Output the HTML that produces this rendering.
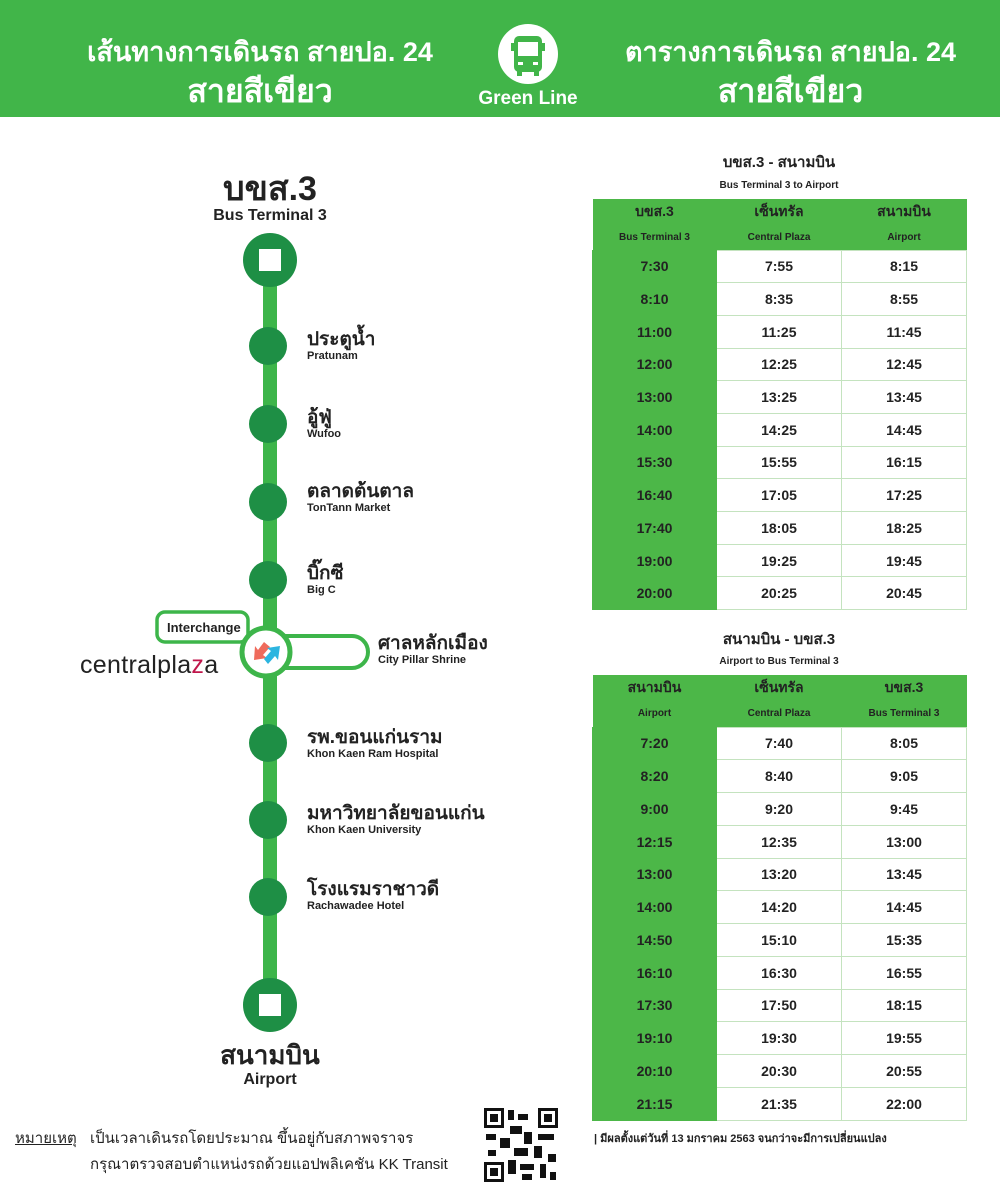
<!DOCTYPE html>
<html><head><meta charset="utf-8"><style>
body{margin:0;width:1000px;height:1186px;position:relative;background:#fff;font-family:"Liberation Sans","Noto Sans CJK SC",sans-serif;overflow:hidden;color:#222}
.a{position:absolute}
.hdr{left:0;top:0;width:1000px;height:117px;background:#41b549}
.ht{color:#fff;font-weight:bold;text-align:center;white-space:nowrap}
table{position:absolute;border-collapse:collapse;table-layout:fixed;font-weight:bold;font-size:14px;text-align:center}
td{border:1px solid #c4e3bf;padding:0}
td.g{background:#4cb748;border-color:#4cb748}
th{background:#4cb748;font-weight:bold;color:#222;padding:0}
.s1{font-size:14px}.s2{font-size:10px}
.lbl{font-weight:bold;white-space:nowrap}
.th{font-size:19px;color:#222;line-height:20px}
.en{font-size:11px;color:#222;line-height:13px}
</style></head><body>
<div class="a hdr"></div>
<div class="a ht" style="left:70px;top:30px;width:380px;font-size:27px">เส้นทางการเดินรถ สายปอ. 24</div>
<div class="a ht" style="left:70px;top:66px;width:380px;font-size:32px">สายสีเขียว</div>
<div class="a ht" style="left:608px;top:30px;width:365px;font-size:27px">ตารางการเดินรถ สายปอ. 24</div>
<div class="a ht" style="left:608px;top:66px;width:365px;font-size:32px">สายสีเขียว</div>
<svg class="a" style="left:497px;top:23px" width="62" height="62"><circle cx="31" cy="31" r="30" fill="#fff"/><rect x="17" y="13" width="28" height="36" rx="5" fill="#41b549"/><rect x="21" y="19" width="20" height="14" fill="#fff"/><rect x="21" y="39" width="5" height="3" fill="#fff"/><rect x="36" y="39" width="5" height="3" fill="#fff"/><rect x="20" y="48" width="5" height="5" fill="#41b549"/><rect x="37" y="48" width="5" height="5" fill="#41b549"/><rect x="14" y="20" width="3" height="8" fill="#41b549"/><rect x="45" y="20" width="3" height="8" fill="#41b549"/></svg>
<div class="a ht" style="left:460px;top:88px;width:136px;font-size:19px">Green Line</div>

<div class="a lbl" style="left:170px;top:170px;width:200px;text-align:center;font-size:34px;line-height:38px">บขส.3</div>
<div class="a lbl" style="left:170px;top:207px;width:200px;text-align:center;font-size:16px">Bus Terminal 3</div>

<svg class="a" style="left:0;top:0" width="600" height="1186">
<rect x="263" y="260" width="14" height="745" fill="#3db54a"/>
<circle cx="270" cy="260" r="27" fill="#1e8f45"/><rect x="259" y="249" width="22" height="22" fill="#fff"/>
<circle cx="270" cy="1005" r="27" fill="#1e8f45"/><rect x="259" y="994" width="22" height="22" fill="#fff"/>
<g fill="#1e8f45"><circle cx="268" cy="346" r="19"/><circle cx="268" cy="424" r="19"/><circle cx="268" cy="502" r="19"/><circle cx="268" cy="580" r="19"/><circle cx="268" cy="743" r="19"/><circle cx="268" cy="820" r="19"/><circle cx="268" cy="897" r="19"/></g>
<rect x="157" y="612" width="91" height="30" rx="8" fill="#fff" stroke="#3db54a" stroke-width="3.5"/>
<path d="M285 636 H352 A16 16 0 0 1 352 668 H285" fill="#fff" stroke="#3db54a" stroke-width="4"/>
<circle cx="266" cy="652" r="24" fill="#fff" stroke="#3db54a" stroke-width="5"/>
<path d="M264 642 L258 650 L255 646 L254 660 L267 658 L263 655 L270 647 Z" fill="#ef6b5c"/>
<path d="M268 664 L275 656 L278 660 L280 646 L267 648 L271 651 L264 659 Z" fill="#2cb5e0"/>
</svg>
<div class="a lbl" style="left:167px;top:620px;font-size:13px">Interchange</div>
<div class="a" style="left:80px;top:651px;font-size:25px;letter-spacing:0.3px;color:#222">central<span style="font-weight:normal">pla</span><span style="color:#c0164b">z</span>a</div>

<div class="a lbl" style="left:307px;top:330px"><div class="th">ประตูน้ำ</div><div class="en">Pratunam</div></div>
<div class="a lbl" style="left:307px;top:408px"><div class="th">อู้ฟู่</div><div class="en">Wufoo</div></div>
<div class="a lbl" style="left:307px;top:482px"><div class="th">ตลาดต้นตาล</div><div class="en">TonTann Market</div></div>
<div class="a lbl" style="left:307px;top:564px"><div class="th">บิ๊กซี</div><div class="en">Big C</div></div>
<div class="a lbl" style="left:378px;top:634px"><div class="th">ศาลหลักเมือง</div><div class="en">City Pillar Shrine</div></div>
<div class="a lbl" style="left:307px;top:728px"><div class="th">รพ.ขอนแก่นราม</div><div class="en">Khon Kaen Ram Hospital</div></div>
<div class="a lbl" style="left:307px;top:804px"><div class="th">มหาวิทยาลัยขอนแก่น</div><div class="en">Khon Kaen University</div></div>
<div class="a lbl" style="left:307px;top:880px"><div class="th">โรงแรมราชาวดี</div><div class="en">Rachawadee Hotel</div></div>

<div class="a lbl" style="left:170px;top:1040px;width:200px;text-align:center;font-size:26px;line-height:30px">สนามบิน</div>
<div class="a lbl" style="left:170px;top:1071px;width:200px;text-align:center;font-size:16px">Airport</div>

<div class="a" style="left:15px;top:1126px;font-size:15px;text-decoration:underline">หมายเหตุ</div>
<div class="a" style="left:90px;top:1126px;font-size:15px;white-space:nowrap">เป็นเวลาเดินรถโดยประมาณ ขึ้นอยู่กับสภาพจราจร</div>
<div class="a" style="left:90px;top:1152px;font-size:15px;white-space:nowrap">กรุณาตรวจสอบตำแหน่งรถด้วยแอปพลิเคชัน KK Transit</div>
<svg class="a" style="left:484px;top:1108px" width="74" height="74"><rect width="74" height="74" fill="#fff"/><g fill="#111"><rect x="0" y="0" width="20" height="20"/><rect x="54" y="0" width="20" height="20"/><rect x="0" y="54" width="20" height="20"/></g><g fill="#fff"><rect x="3" y="3" width="14" height="14"/><rect x="57" y="3" width="14" height="14"/><rect x="3" y="57" width="14" height="14"/></g><g fill="#111"><rect x="6" y="6" width="8" height="8"/><rect x="60" y="6" width="8" height="8"/><rect x="6" y="60" width="8" height="8"/><rect x="24" y="2" width="6" height="10"/><rect x="34" y="6" width="10" height="6"/><rect x="26" y="18" width="12" height="8"/><rect x="2" y="26" width="10" height="6"/><rect x="16" y="30" width="10" height="10"/><rect x="40" y="24" width="8" height="12"/><rect x="54" y="26" width="16" height="6"/><rect x="30" y="40" width="14" height="8"/><rect x="50" y="38" width="8" height="12"/><rect x="4" y="42" width="8" height="6"/><rect x="24" y="52" width="8" height="14"/><rect x="36" y="56" width="14" height="6"/><rect x="56" y="56" width="6" height="14"/><rect x="64" y="46" width="8" height="8"/><rect x="38" y="66" width="10" height="6"/><rect x="66" y="64" width="6" height="8"/></g></svg>

<div class="a lbl" style="left:592px;top:150px;width:374px;text-align:center;font-size:15px">บขส.3 - สนามบิน</div>
<div class="a lbl" style="left:592px;top:180px;width:374px;text-align:center;font-size:10px">Bus Terminal 3 to Airport</div>
<table style="left:592px;top:199px;width:374px">
<colgroup><col style="width:124px"><col style="width:125px"><col style="width:125px"></colgroup>
<tr style="height:26px"><th class="s1">บขส.3</th><th class="s1">เซ็นทรัล</th><th class="s1">สนามบิน</th></tr>
<tr style="height:25px"><th class="s2">Bus Terminal 3</th><th class="s2">Central Plaza</th><th class="s2">Airport</th></tr>
<tr style="height:32.7px"><td class="g">7:30</td><td>7:55</td><td>8:15</td></tr>
<tr style="height:32.7px"><td class="g">8:10</td><td>8:35</td><td>8:55</td></tr>
<tr style="height:32.7px"><td class="g">11:00</td><td>11:25</td><td>11:45</td></tr>
<tr style="height:32.7px"><td class="g">12:00</td><td>12:25</td><td>12:45</td></tr>
<tr style="height:32.7px"><td class="g">13:00</td><td>13:25</td><td>13:45</td></tr>
<tr style="height:32.7px"><td class="g">14:00</td><td>14:25</td><td>14:45</td></tr>
<tr style="height:32.7px"><td class="g">15:30</td><td>15:55</td><td>16:15</td></tr>
<tr style="height:32.7px"><td class="g">16:40</td><td>17:05</td><td>17:25</td></tr>
<tr style="height:32.7px"><td class="g">17:40</td><td>18:05</td><td>18:25</td></tr>
<tr style="height:32.7px"><td class="g">19:00</td><td>19:25</td><td>19:45</td></tr>
<tr style="height:32.7px"><td class="g">20:00</td><td>20:25</td><td>20:45</td></tr>
</table>

<div class="a lbl" style="left:592px;top:627px;width:374px;text-align:center;font-size:15px">สนามบิน - บขส.3</div>
<div class="a lbl" style="left:592px;top:656px;width:374px;text-align:center;font-size:10px">Airport to Bus Terminal 3</div>
<table style="left:592px;top:675px;width:374px">
<colgroup><col style="width:124px"><col style="width:125px"><col style="width:125px"></colgroup>
<tr style="height:26px"><th class="s1">สนามบิน</th><th class="s1">เซ็นทรัล</th><th class="s1">บขส.3</th></tr>
<tr style="height:26px"><th class="s2">Airport</th><th class="s2">Central Plaza</th><th class="s2">Bus Terminal 3</th></tr>
<tr style="height:32.75px"><td class="g">7:20</td><td>7:40</td><td>8:05</td></tr>
<tr style="height:32.75px"><td class="g">8:20</td><td>8:40</td><td>9:05</td></tr>
<tr style="height:32.75px"><td class="g">9:00</td><td>9:20</td><td>9:45</td></tr>
<tr style="height:32.75px"><td class="g">12:15</td><td>12:35</td><td>13:00</td></tr>
<tr style="height:32.75px"><td class="g">13:00</td><td>13:20</td><td>13:45</td></tr>
<tr style="height:32.75px"><td class="g">14:00</td><td>14:20</td><td>14:45</td></tr>
<tr style="height:32.75px"><td class="g">14:50</td><td>15:10</td><td>15:35</td></tr>
<tr style="height:32.75px"><td class="g">16:10</td><td>16:30</td><td>16:55</td></tr>
<tr style="height:32.75px"><td class="g">17:30</td><td>17:50</td><td>18:15</td></tr>
<tr style="height:32.75px"><td class="g">19:10</td><td>19:30</td><td>19:55</td></tr>
<tr style="height:32.75px"><td class="g">20:10</td><td>20:30</td><td>20:55</td></tr>
<tr style="height:32.75px"><td class="g">21:15</td><td>21:35</td><td>22:00</td></tr>
</table>
<div class="a lbl" style="left:594px;top:1129px;font-size:11px">| มีผลตั้งแต่วันที่ 13 มกราคม 2563 จนกว่าจะมีการเปลี่ยนแปลง</div>
</body></html>
